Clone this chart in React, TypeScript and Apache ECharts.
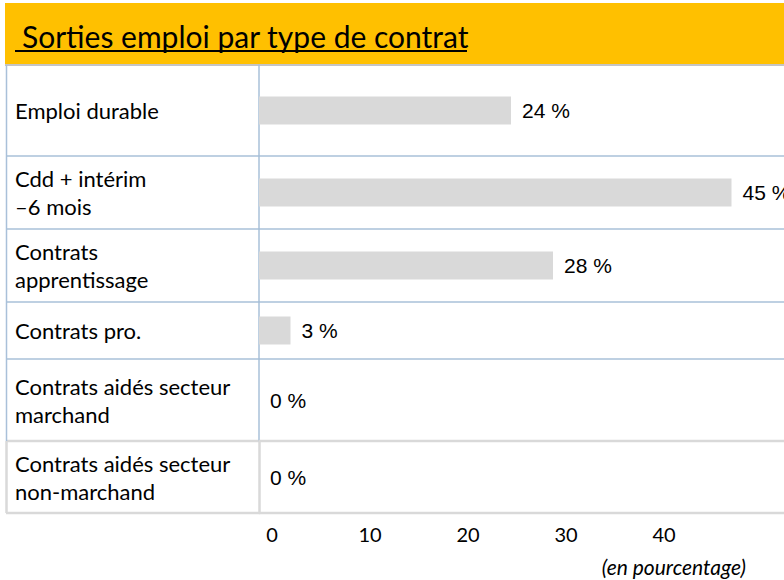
import React, { useEffect, useRef } from 'react';
import * as echarts from 'echarts';

const title = 'Sorties emploi par type de contrat';
const unitNote = '(en pourcentage)';
const categories = [
  'Emploi durable',
  'Cdd + intérim\n–6 mois',
  'Contrats\napprentissage',
  'Contrats pro.',
  'Contrats aidés secteur\nmarchand',
  'Contrats aidés secteur\nnon-marchand',
];
const values = [24, 45, 28, 3, 0, 0];
const tickMax = 40;
const tickStep = 10;

// layout (pixels)
const rowTops = [65, 156, 229, 302, 359, 441];
const rowBottoms = [156, 229, 302, 359, 441, 513];
const plotLeft = 259;
const blueLine = '#a9c0d9';
const grayLine = '#d9d9d9';
const labelFont = 'Lato, "Open Sans", sans-serif';

export default function App() {
  const ref = useRef<HTMLDivElement>(null);
  useEffect(() => {
    if (!ref.current) return;
    const chart = echarts.init(ref.current, undefined, { renderer: 'svg' });
    const n = categories.length;
    const grids: any[] = [];
    const xAxes: any[] = [];
    const yAxes: any[] = [];
    const series: any[] = [];
    for (let i = 0; i < n; i++) {
      const last = i === n - 1;
      grids.push({ left: plotLeft, right: 0, top: rowTops[i], height: rowBottoms[i] - rowTops[i] });
      xAxes.push({ gridIndex: i, type: 'value', min: 0, max: 50, show: false });
      yAxes.push({
        gridIndex: i,
        type: 'category',
        data: [categories[i]],
        axisLine: { show: true, lineStyle: { color: last ? grayLine : blueLine, width: last ? 2.5 : 1.5 } },
        axisTick: { show: false },
        splitLine: { show: false },
        axisLabel: {
          align: 'left',
          margin: plotLeft - 15,
          fontSize: 22,
          lineHeight: 28,
          fontFamily: labelFont,
          color: '#000',
        },
      });
      series.push({
        type: 'bar',
        xAxisIndex: i,
        yAxisIndex: i,
        data: [values[i]],
        barWidth: 28,
        itemStyle: { color: '#d9d9d9' },
        label: {
          show: true,
          position: 'right',
          distance: 11,
          formatter: '{c} %',
          fontSize: 21,
          fontFamily: '"Liberation Sans", Arial, sans-serif',
          color: '#000',
        },
      });
    }
    // tick axis grid
    grids.push({ left: 272, width: 392, top: 513, height: 1 });
    xAxes.push({
      gridIndex: n,
      type: 'value',
      min: 0,
      max: tickMax,
      interval: tickStep,
      axisLine: { show: false },
      axisTick: { show: false },
      splitLine: { show: false },
      axisLabel: { fontSize: 20, fontFamily: labelFont, color: '#000', margin: 10 },
    });
    yAxes.push({ gridIndex: n, type: 'value', show: false });

    const graphic: any[] = [
      { type: 'rect', shape: { x: 5, y: 3, width: 779, height: 61 }, style: { fill: '#FFC000' }, silent: true },
      { type: 'line', shape: { x1: 5, y1: 65, x2: 784, y2: 65 }, style: { stroke: '#c4c4c4', lineWidth: 2 } },
      {
        type: 'text',
        x: 22,
        y: 36,
        style: { text: title, fontSize: 30, fontFamily: labelFont, fill: '#000', verticalAlign: 'middle' },
      },
      { type: 'line', shape: { x1: 15, y1: 51, x2: 467, y2: 51 }, style: { stroke: '#000', lineWidth: 2 } },
      {
        type: 'text',
        x: 746,
        y: 566,
        style: {
          text: unitNote,
          fontSize: 21,
          fontStyle: 'italic',
          fontFamily: labelFont,
          fill: '#000',
          align: 'right',
          verticalAlign: 'middle',
        },
      },
    ];
    for (let i = 1; i < n; i++) {
      const gray = i === n - 1;
      graphic.push({
        type: 'line',
        shape: { x1: 6, y1: rowTops[i], x2: 784, y2: rowTops[i] },
        style: { stroke: gray ? grayLine : blueLine, lineWidth: gray ? 2.5 : 1.5 },
      });
    }
    graphic.push({
      type: 'line',
      shape: { x1: 6, y1: rowBottoms[n - 1], x2: 784, y2: rowBottoms[n - 1] },
      style: { stroke: grayLine, lineWidth: 2.5 },
    });
    graphic.push({
      type: 'line',
      shape: { x1: 6.5, y1: 65, x2: 6.5, y2: rowTops[n - 1] },
      style: { stroke: blueLine, lineWidth: 1.5 },
    });
    graphic.push({
      type: 'line',
      shape: { x1: 6.5, y1: rowTops[n - 1], x2: 6.5, y2: rowBottoms[n - 1] },
      style: { stroke: grayLine, lineWidth: 2.5 },
    });

    chart.setOption({
      animation: false,
      backgroundColor: '#fff',
      grid: grids,
      xAxis: xAxes,
      yAxis: yAxes,
      series,
      graphic,
    });
    return () => chart.dispose();
  }, []);
  return (
    <div
      ref={ref}
      style={{ position: 'fixed', left: 0, top: 0, width: 784, height: 580 }}
    />
  );
}
